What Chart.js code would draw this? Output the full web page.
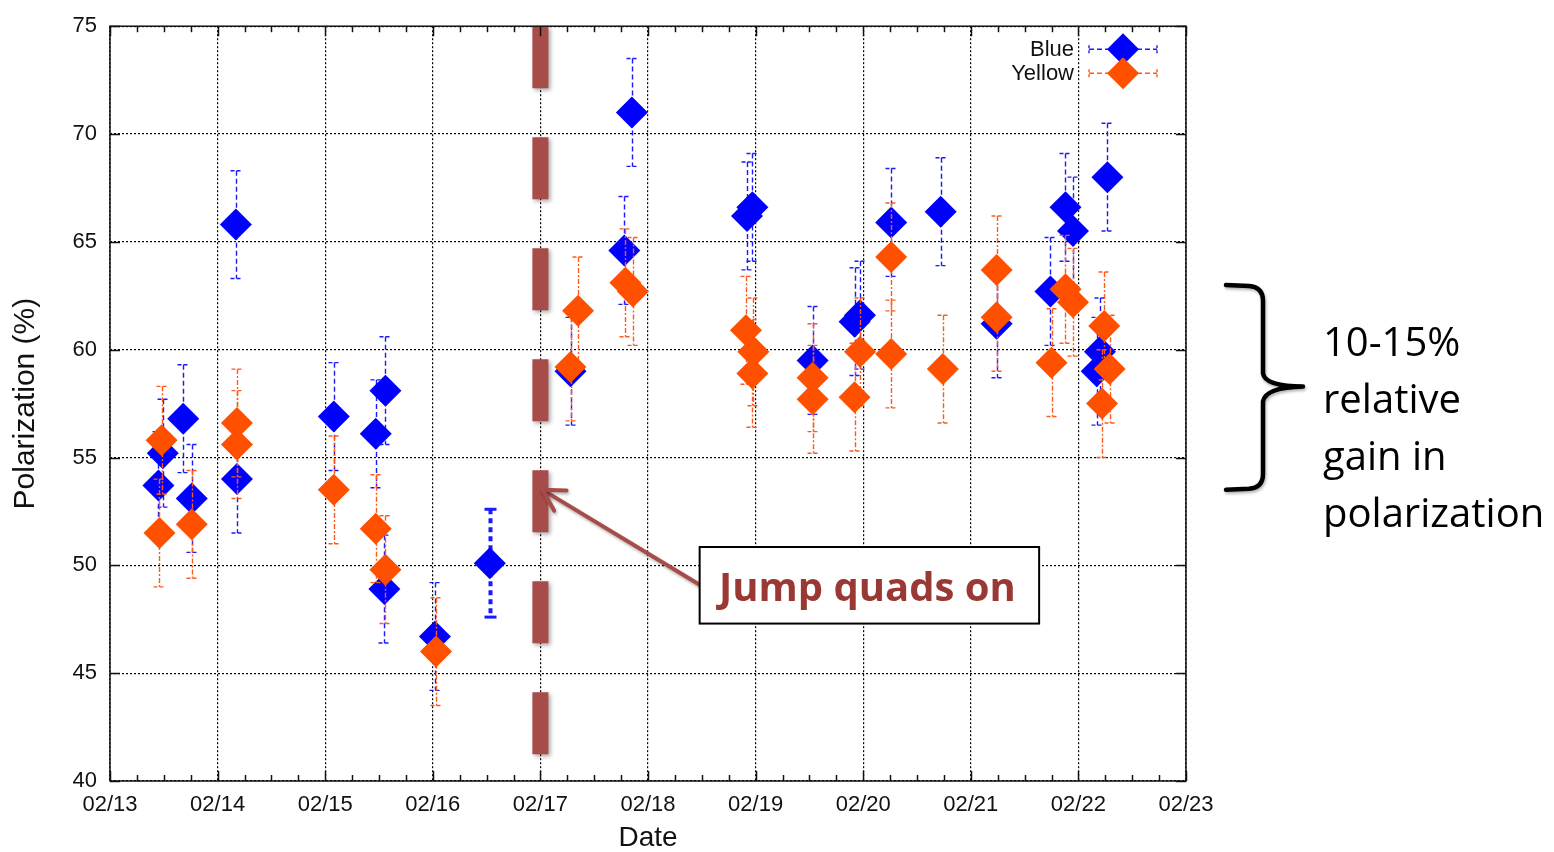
<!DOCTYPE html>
<html>
<head>
<meta charset="utf-8">
<title>Polarization</title>
<script src="https://cdn.jsdelivr.net/npm/chart.js@4.4.1/dist/chart.umd.min.js"></script>
<style>
  html, body { margin: 0; padding: 0; background: #fff; }
  #wrap { width: 1554px; height: 852px; }
</style>
</head>
<body>
<div id="wrap"><canvas id="polChart" width="1554" height="852"></canvas></div>
<script>
// x values are days since 02/13 00:00
const dayLabels = ["02/13", "02/14", "02/15", "02/16", "02/17", "02/18", "02/19", "02/20", "02/21", "02/22", "02/23"];
const yTicks = [40, 45, 50, 55, 60, 65, 70, 75];

const blueDays   = [0.45, 0.49, 0.68, 0.76, 1.17, 1.18, 2.08, 2.47, 2.56, 2.55, 3.02, 3.53, 4.28, 4.78, 4.85,
                    5.92, 5.97, 6.53, 6.92, 6.97, 7.26, 7.72, 8.24, 8.74, 8.88, 8.95, 9.17, 9.20, 9.27];
const blueValues = [53.7, 55.2, 56.8, 53.1, 65.8, 54.0, 56.9, 56.1, 58.1, 48.9, 46.7, 50.1, 59.0, 64.6, 71.0,
                    66.2, 66.6, 59.5, 61.3, 61.6, 65.9, 66.4, 61.2, 62.7, 66.6, 65.5, 59.0, 59.9, 68.0];
const blueErrors = [2.5, 2.5, 2.5, 2.5, 2.5, 2.5, 2.5, 2.5, 2.5, 2.5, 2.5, 2.5, 2.5, 2.5, 2.5,
                    2.5, 2.5, 2.5, 2.5, 2.5, 2.5, 2.5, 2.5, 2.5, 2.5, 2.5, 2.5, 2.5, 2.5];

const yellowDays   = [0.46, 0.48, 0.76, 1.18, 1.18, 2.08, 2.47, 2.56, 3.03, 4.28, 4.35, 4.79, 4.86, 5.91, 5.98, 5.97,
                      6.53, 6.53, 6.92, 6.97, 7.26, 7.26, 7.74, 8.24, 8.24, 8.75, 8.88, 8.95, 9.22, 9.24, 9.29];
const yellowValues = [51.5, 55.8, 51.9, 56.6, 55.6, 53.5, 51.7, 49.8, 46.0, 59.2, 61.8, 63.1, 62.7, 60.9, 59.9, 58.9,
                      58.7, 57.7, 57.8, 59.9, 64.3, 59.8, 59.1, 63.7, 61.5, 59.4, 62.8, 62.2, 57.5, 61.1, 59.1];
const yellowErrors = [2.5, 2.5, 2.5, 2.5, 2.5, 2.5, 2.5, 2.5, 2.5, 2.5, 2.5, 2.5, 2.5, 2.5, 2.5, 2.5,
                      2.5, 2.5, 2.5, 2.5, 2.5, 2.5, 2.5, 2.5, 2.5, 2.5, 2.5, 2.5, 2.5, 2.5, 2.5];

const jumpDay = 4;          // jump quads switched on
const GAIN_LINES = ["10-15%", "relative", "gain in", "polarization"];
const BROWN = "#a84c49";

function toPoints(xs, ys) {
  return xs.map((x, i) => ({ x: x, y: ys[i] }));
}

function line(ctx, x1, y1, x2, y2) {
  ctx.beginPath();
  ctx.moveTo(x1, y1);
  ctx.lineTo(x2, y2);
  ctx.stroke();
}

function diamond(ctx, x, y, r, color) {
  ctx.fillStyle = color;
  ctx.beginPath();
  ctx.moveTo(x - r, y);
  ctx.lineTo(x, y - r);
  ctx.lineTo(x + r, y);
  ctx.lineTo(x, y + r);
  ctx.closePath();
  ctx.fill();
}

// vertical error bars, drawn just under each dataset's own markers
const errorBars = {
  id: "errorBars",
  beforeDatasetDraw(chart, args) {
    const ds = chart.data.datasets[args.index];
    if (!ds.errors) return;
    const { ctx, scales: { x, y } } = chart;
    ctx.save();
    ctx.strokeStyle = ds.barColor;
    ds.data.forEach((p, i) => {
      const px = Math.round(x.getPixelForValue(p.x)) + 0.5;
      const top = y.getPixelForValue(p.y + ds.errors[i]);
      const bot = y.getPixelForValue(p.y - ds.errors[i]);
      const heavy = (ds.heavyBars || []).includes(i);
      ctx.lineWidth = heavy ? 4 : 1.4;
      ctx.setLineDash(heavy ? [5, 4] : ds.barDash);
      line(ctx, px, top, px, bot);
      ctx.lineWidth = heavy ? 3 : 1.4;
      ctx.setLineDash(heavy ? [] : [4, 2]);
      line(ctx, px - 6, top, px + 6, top);
      line(ctx, px - 6, bot, px + 6, bot);
    });
    ctx.restore();
  }
};

// frame, inward ticks, legend and the notes around the plot
const decorations = {
  id: "decorations",
  afterDatasetsDraw(chart) {
    const { ctx, chartArea: a, scales: { x, y } } = chart;

    // thick dashed marker at the jump-quad switch-on
    const jx = x.getPixelForValue(jumpDay);
    ctx.save();
    ctx.shadowColor = "rgba(0,0,0,0.35)";
    ctx.shadowBlur = 4;
    ctx.shadowOffsetX = 2;
    ctx.shadowOffsetY = 2;
    ctx.strokeStyle = BROWN;
    ctx.lineWidth = 16;
    ctx.setLineDash([62, 49]);
    line(ctx, jx, a.top, jx, a.bottom);
    ctx.restore();

    // arrow from the note box to the marker
    const tipX = x.getPixelForValue(4.02), tipY = y.getPixelForValue(53.5);
    const tailX = x.getPixelForValue(5.48), tailY = y.getPixelForValue(49.1);
    const ang = Math.atan2(tailY - tipY, tailX - tipX);
    ctx.save();
    ctx.shadowColor = "rgba(0,0,0,0.3)";
    ctx.shadowBlur = 3;
    ctx.shadowOffsetX = 1;
    ctx.shadowOffsetY = 2;
    ctx.strokeStyle = BROWN;
    ctx.lineWidth = 4;
    ctx.lineCap = "round";
    line(ctx, tailX, tailY, tipX + 2 * Math.cos(ang), tipY + 2 * Math.sin(ang));
    [-0.52, 0.52].forEach(d => {
      line(ctx, tipX, tipY, tipX + 24 * Math.cos(ang + d), tipY + 24 * Math.sin(ang + d));
    });
    ctx.restore();

    // note box
    const bx1 = x.getPixelForValue(5.48), bx2 = x.getPixelForValue(8.635);
    const by1 = y.getPixelForValue(50.85), by2 = y.getPixelForValue(47.3);
    ctx.save();
    ctx.fillStyle = "#fff";
    ctx.fillRect(bx1, by1, bx2 - bx1, by2 - by1);
    ctx.strokeStyle = "#000";
    ctx.lineWidth = 2;
    ctx.strokeRect(bx1, by1, bx2 - bx1, by2 - by1);
    ctx.fillStyle = "#9a3834";
    ctx.font = "bold 40px 'Open Sans'";
    ctx.textAlign = "center";
    ctx.textBaseline = "middle";
    ctx.fillText("Jump quads on", (bx1 + bx2) / 2 - 2, (by1 + by2) / 2 + 4);
    ctx.restore();

    // legend, top right inside the frame
    ctx.save();
    ctx.font = "22px 'Liberation Sans'";
    ctx.textAlign = "right";
    ctx.textBaseline = "middle";
    chart.data.datasets.forEach((ds, i) => {
      const cy = a.top + 23 + i * 24;
      const cx = a.right - 63;
      ctx.fillStyle = "#111";
      ctx.fillText(ds.label, a.right - 112, cy + 1);
      ctx.strokeStyle = ds.barColor;
      ctx.lineWidth = 1.4;
      ctx.setLineDash([5, 3]);
      line(ctx, a.right - 97, cy, a.right - 29, cy);
      ctx.setLineDash([3, 2]);
      line(ctx, a.right - 97, cy - 4, a.right - 97, cy + 4);
      line(ctx, a.right - 29, cy - 4, a.right - 29, cy + 4);
      diamond(ctx, cx, cy, 16, ds.backgroundColor);
    });
    ctx.restore();
  },
  afterDraw(chart) {
    const { ctx, chartArea: a, scales: { x, y } } = chart;
    ctx.save();
    ctx.strokeStyle = "#111";
    ctx.lineWidth = 1.5;
    ctx.strokeRect(a.left, a.top, a.right - a.left, a.bottom - a.top);

    ctx.lineWidth = 1.5;
    for (let d = x.min; d <= x.max + 1e-9; d += 0.25) {
      const px = Math.round(x.getPixelForValue(d)) + 0.5;
      const len = Math.abs(d - Math.round(d)) < 1e-6 ? 10 : 6;
      line(ctx, px, a.bottom, px, a.bottom - len);
      line(ctx, px, a.top, px, a.top + len);
    }
    yTicks.forEach(v => {
      const py = Math.round(y.getPixelForValue(v)) + 0.5;
      line(ctx, a.left, py, a.left + 10, py);
      line(ctx, a.right, py, a.right - 10, py);
    });
    ctx.restore();

    // curly brace and the gain note on the right
    const yTop = y.getPixelForValue(63.0), yBot = y.getPixelForValue(53.5);
    const mid = (yTop + yBot) / 2;
    const xe = a.right + 40, xv = a.right + 77, xt = a.right + 117;
    ctx.save();
    ctx.shadowColor = "rgba(0,0,0,0.3)";
    ctx.shadowBlur = 3;
    ctx.shadowOffsetX = 1;
    ctx.shadowOffsetY = 2;
    ctx.strokeStyle = "#000";
    ctx.lineWidth = 4.5;
    ctx.lineCap = "round";
    ctx.lineJoin = "round";
    ctx.beginPath();
    ctx.moveTo(xe, yTop);
    ctx.lineTo(xv - 14, yTop + 1);
    ctx.quadraticCurveTo(xv, yTop + 2, xv, yTop + 16);
    ctx.lineTo(xv, mid - 14);
    ctx.quadraticCurveTo(xv + 2, mid - 1, xt, mid - 1);
    ctx.moveTo(xt, mid - 1);
    ctx.quadraticCurveTo(xv + 2, mid, xv, mid + 14);
    ctx.lineTo(xv, yBot - 16);
    ctx.quadraticCurveTo(xv, yBot - 2, xv - 14, yBot - 1);
    ctx.lineTo(xe, yBot);
    ctx.stroke();
    ctx.restore();

    ctx.save();
    ctx.fillStyle = "#000";
    ctx.font = "40px 'Open Sans'";
    ctx.textAlign = "left";
    ctx.textBaseline = "alphabetic";
    GAIN_LINES.forEach((t, i) => {
      ctx.fillText(t, a.right + 137, mid - 31 + i * 57);
    });
    ctx.restore();
  }
};

Chart.defaults.font.family = "'Liberation Sans', Arial, sans-serif";
Chart.defaults.color = "#111";

const ctx = document.getElementById("polChart").getContext("2d");
new Chart(ctx, {
  type: "scatter",
  data: {
    datasets: [
      {
        label: "Blue",
        data: toPoints(blueDays, blueValues),
        errors: blueErrors,
        heavyBars: [11],
        barColor: "#1a1aff",
        barDash: [5, 3],
        backgroundColor: "#0000ff",
        pointStyle: "rectRot",
        pointRadius: 16,
        pointHoverRadius: 16,
        borderWidth: 0,
        order: 1
      },
      {
        label: "Yellow",
        data: toPoints(yellowDays, yellowValues),
        errors: yellowErrors,
        barColor: "#ff5a1a",
        barDash: [5, 2, 2, 2],
        backgroundColor: "#ff5000",
        pointStyle: "rectRot",
        pointRadius: 16,
        pointHoverRadius: 16,
        borderWidth: 0,
        order: 0
      }
    ]
  },
  options: {
    responsive: false,
    animation: false,
    devicePixelRatio: 1,
    events: [],
    layout: { padding: { top: 23, right: 368, left: 0, bottom: 0 } },
    plugins: {
      legend: { display: false },
      tooltip: { enabled: false }
    },
    scales: {
      x: {
        type: "linear",
        min: 0,
        max: 10,
        afterFit: (s) => { s.height = 71; },
        afterBuildTicks: (s) => { s.ticks = dayLabels.map((_, i) => ({ value: i })); },
        ticks: {
          callback: (v) => dayLabels[v],
          font: { size: 22 },
          color: "#111",
          padding: 11,
          maxRotation: 0,
          autoSkip: false
        },
        grid: { color: "#000", lineWidth: 1.2, drawTicks: false },
        border: { display: false, dash: [2, 2] },
        title: { display: true, text: "Date", font: { size: 28, lineHeight: 1 }, color: "#111", padding: { top: 0, bottom: 0 } }
      },
      y: {
        min: 40,
        max: 75,
        afterFit: (s) => { s.width = 110; },
        afterBuildTicks: (s) => { s.ticks = yTicks.map(v => ({ value: v })); },
        ticks: {
          font: { size: 22 },
          color: "#111",
          padding: 13
        },
        grid: { color: "#000", lineWidth: 1.2, drawTicks: false },
        border: { display: false, dash: [2, 2] },
        title: { display: true, text: "Polarization (%)", font: { size: 30 }, color: "#111", padding: { top: 8, bottom: 0 } }
      }
    }
  },
  plugins: [errorBars, decorations]
});
</script>
</body>
</html>
